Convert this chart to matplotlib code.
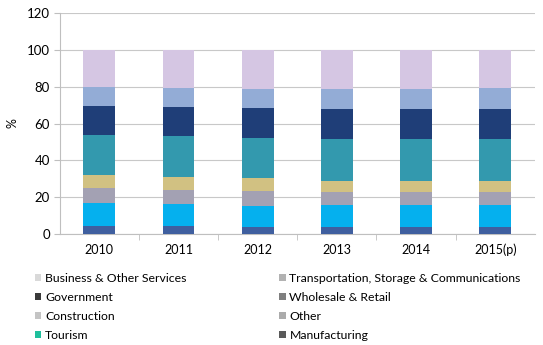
import numpy as np
import matplotlib.pyplot as plt
from matplotlib.patches import Patch

plt.rcParams['font.family'] = ['Lato', 'DejaVu Sans']

years = ['2010', '2011', '2012', '2013', '2014', '2015(p)']

# sector shares, % of total, stacked bottom to top
manufacturing = [4.5, 4.2, 3.6, 3.8, 3.8, 3.8]
tourism = [12.2, 12.0, 11.8, 11.8, 11.8, 11.8]
other = [8.3, 7.8, 7.8, 7.4, 7.4, 7.4]
construction = [7.1, 7.1, 7.1, 6.0, 6.0, 6.0]
wholesale_retail = [21.7, 22.1, 21.6, 22.4, 22.4, 22.4]
government = [15.7, 15.6, 16.3, 16.5, 16.5, 16.5]
transport = [10.1, 10.3, 10.5, 10.8, 10.8, 11.2]
business = [20.4, 20.9, 21.3, 21.3, 21.3, 20.9]

series = [
    ('Manufacturing', manufacturing, '#3f5f9f', '#5a5a5a'),
    ('Tourism', tourism, '#05b0ee', '#1fbf9c'),
    ('Other', other, '#a3a1b3', '#ababab'),
    ('Construction', construction, '#d1c182', '#c4c4c4'),
    ('Wholesale & Retail', wholesale_retail, '#3399ae', '#7f7f7f'),
    ('Government', government, '#1f3e78', '#3a3a3a'),
    ('Transportation, Storage & Communications', transport, '#93acd6', '#b2b2b2'),
    ('Business & Other Services', business, '#d5c6e3', '#d9d9d9'),
]

fig = plt.figure(figsize=(5.43, 3.45), dpi=100)
ax = fig.add_axes([0.110, 0.322, 0.875, 0.640])

x = np.arange(len(years))
bottom = np.zeros(len(years))
for name, vals, col, _ in series:
    ax.bar(x, vals, width=0.4, bottom=bottom, color=col, zorder=3)
    bottom += np.array(vals)

ax.set_xlim(-0.5, len(years) - 0.5)
ax.set_ylim(0, 120)
ax.set_yticks(np.arange(0, 121, 20))
ax.set_xticks(x)
ax.set_xticklabels(years, fontsize=9)
ax.tick_params(axis='y', labelsize=9.5, length=4, color='#bfbfbf', pad=3)
ax.tick_params(axis='x', length=0, pad=7)
ax.set_xticks(np.arange(0.5, len(years) - 0.5, 1), minor=True)
ax.tick_params(axis='x', which='minor', length=4, color='#bfbfbf')
ax.grid(axis='y', color='#c8c8c8', lw=0.8, zorder=0)
for side in ['top', 'right']:
    ax.spines[side].set_visible(False)
for side in ['left', 'bottom']:
    ax.spines[side].set_color('#bfbfbf')
ax.set_ylabel('%', fontsize=9, labelpad=6)

# legend read across rows: left column and right column placed separately
left_cols = [7, 5, 3, 1]
right_cols = [6, 4, 2, 0]
legend_kw = dict(loc='upper left', frameon=False, fontsize=8.8,
                 handlelength=0.55, handleheight=0.55, handletextpad=0.3,
                 labelspacing=0.66, borderpad=0, borderaxespad=0)
for idx, x0 in [(left_cols, 0.064), (right_cols, 0.514)]:
    handles = [Patch(facecolor=series[i][3], edgecolor='none') for i in idx]
    labels = [series[i][0] for i in idx]
    fig.legend(handles, labels, bbox_to_anchor=(x0, 0.21), **legend_kw)

fig.savefig('out.png', dpi=100)
